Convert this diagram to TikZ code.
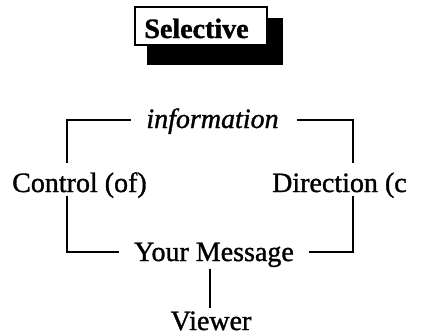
\documentclass[tikz,border=0pt]{standalone}
\usepackage{fontspec}
\setmainfont{Liberation Serif}[FakeBold=1.2]
\begin{document}
\begin{tikzpicture}[x=1pt,y=-1pt,
  lbl/.style={font=\fontsize{28}{30}\selectfont, inner sep=0pt, anchor=base},
  conn/.style={line width=1.8pt, line cap=rect, line join=miter}]
\useasboundingbox (0,0) rectangle (421,335);
% Selective box with shadow
\fill (147,18) rectangle (283,65);
\draw[line width=1.6pt, fill=white] (135,7) rectangle (267,45);
\node[lbl, font=\fontsize{28}{30}\selectfont\bfseries] (sel) at (196.5,38) {Selective};
% texts
\node[lbl, font=\fontsize{28}{30}\selectfont\itshape] (info) at (212.5,128) {information};
\node[lbl, anchor=base west] (ctrl) at (12,192) {Control (of)};
\node[lbl, anchor=base west] (dir) at (272,192) {Direction (c};
\node[lbl] (msg) at (214,261) {Your Message};
\node[lbl] (viewer) at (211,330) {Viewer};
% corners and free ends
\coordinate (tl) at (67,120);
\coordinate (tr) at (353,120);
\coordinate (bl) at (67,252);
\coordinate (br) at (353,252);
\coordinate (lt) at (67,162);
\coordinate (lb) at (67,197);
\coordinate (rt) at (353,162);
\coordinate (rb) at (353,197);
\coordinate (infoL) at (130,120);
\coordinate (infoR) at (298,120);
\coordinate (msgL) at (118,252);
\coordinate (msgR) at (310,252);
\coordinate (vt) at (210,270);
\coordinate (vb) at (210,307);
% connectors
\draw[conn] (infoL) -- (tl) -- (lt);
\draw[conn] (infoR) -- (tr) -- (rt);
\draw[conn] (lb) -- (bl) -- (msgL);
\draw[conn] (rb) -- (br) -- (msgR);
\draw[conn] (vt) -- (vb);
\end{tikzpicture}
\end{document}
